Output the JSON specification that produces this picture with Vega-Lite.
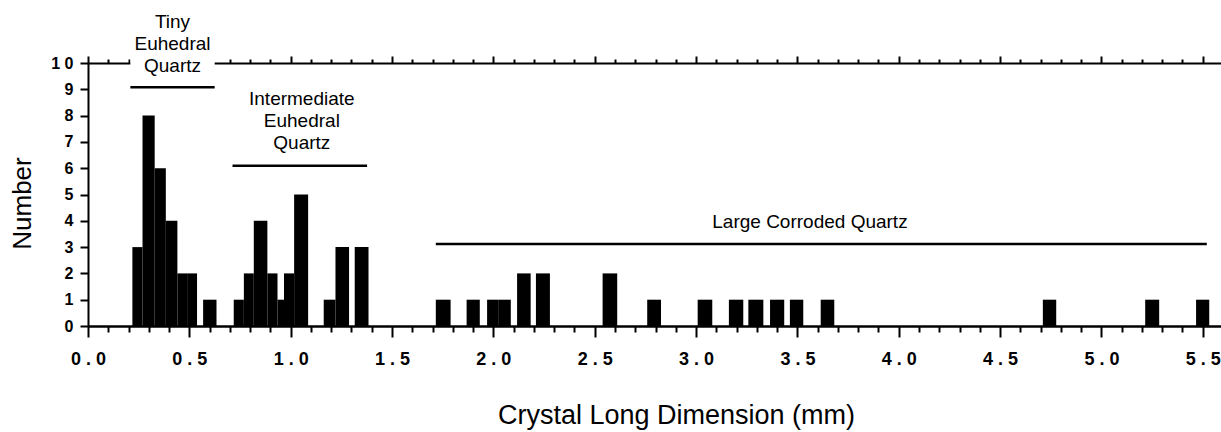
{
  "$schema": "https://vega.github.io/schema/vega-lite/v6.json",
  "width": 1133,
  "height": 263,
  "autosize": "none",
  "padding": {"left": 88, "top": 63, "right": 0, "bottom": 106},
  "background": "white",
  "datasets": {
    "bins": [
      {"x0": 0.219, "x1": 0.269, "count": 3},
      {"x0": 0.269, "x1": 0.329, "count": 8},
      {"x0": 0.329, "x1": 0.384, "count": 6},
      {"x0": 0.384, "x1": 0.441, "count": 4},
      {"x0": 0.441, "x1": 0.489, "count": 2},
      {"x0": 0.489, "x1": 0.538, "count": 2},
      {"x0": 0.568, "x1": 0.634, "count": 1},
      {"x0": 0.719, "x1": 0.769, "count": 1},
      {"x0": 0.769, "x1": 0.818, "count": 2},
      {"x0": 0.818, "x1": 0.885, "count": 4},
      {"x0": 0.885, "x1": 0.935, "count": 2},
      {"x0": 0.935, "x1": 0.967, "count": 1},
      {"x0": 0.967, "x1": 1.017, "count": 2},
      {"x0": 1.017, "x1": 1.086, "count": 5},
      {"x0": 1.163, "x1": 1.221, "count": 1},
      {"x0": 1.221, "x1": 1.288, "count": 3},
      {"x0": 1.316, "x1": 1.384, "count": 3},
      {"x0": 1.716, "x1": 1.789, "count": 1},
      {"x0": 1.868, "x1": 1.933, "count": 1},
      {"x0": 1.969, "x1": 2.027, "count": 1},
      {"x0": 2.027, "x1": 2.086, "count": 1},
      {"x0": 2.117, "x1": 2.184, "count": 2},
      {"x0": 2.210, "x1": 2.279, "count": 2},
      {"x0": 2.539, "x1": 2.611, "count": 2},
      {"x0": 2.759, "x1": 2.827, "count": 1},
      {"x0": 3.008, "x1": 3.080, "count": 1},
      {"x0": 3.162, "x1": 3.233, "count": 1},
      {"x0": 3.258, "x1": 3.332, "count": 1},
      {"x0": 3.365, "x1": 3.435, "count": 1},
      {"x0": 3.463, "x1": 3.529, "count": 1},
      {"x0": 3.615, "x1": 3.682, "count": 1},
      {"x0": 4.711, "x1": 4.777, "count": 1},
      {"x0": 5.216, "x1": 5.285, "count": 1},
      {"x0": 5.467, "x1": 5.532, "count": 1}
    ],
    "groups": [
      {"group": "tiny", "label": "Tiny\nEuhedral\nQuartz", "x_start": 0.209, "x_end": 0.625, "line_y": 9.08, "label_x": 0.417, "label_y": 11.33},
      {"group": "intermediate", "label": "Intermediate\nEuhedral\nQuartz", "x_start": 0.713, "x_end": 1.377, "line_y": 6.09, "label_x": 1.055, "label_y": 8.4},
      {"group": "large", "label": "Large Corroded Quartz", "x_start": 1.716, "x_end": 5.52, "line_y": 3.12, "label_x": 3.562, "label_y": 3.71}
    ]
  },
  "layer": [
    {
      "data": {"name": "bins"},
      "mark": {"type": "rect", "color": "black"},
      "encoding": {
        "x": {
          "field": "x0",
          "type": "quantitative",
          "scale": {"domain": [0, 5.59], "nice": false, "zero": false},
          "axis": {
            "orient": "bottom",
            "values": [0, 0.1, 0.2, 0.3, 0.4, 0.5, 0.6, 0.7, 0.8, 0.9, 1, 1.1, 1.2, 1.3, 1.4, 1.5, 1.6, 1.7, 1.8, 1.9, 2, 2.1, 2.2, 2.3, 2.4, 2.5, 2.6, 2.7, 2.8, 2.9, 3, 3.1, 3.2, 3.3, 3.4, 3.5, 3.6, 3.7, 3.8, 3.9, 4, 4.1, 4.2, 4.3, 4.4, 4.5, 4.6, 4.7, 4.8, 4.9, 5, 5.1, 5.2, 5.3, 5.4, 5.5],
            "labelExpr": "abs(datum.value * 2 - round(datum.value * 2)) < 0.001 ? join(split(format(datum.value, '.1f'), ''), ' ') : ''",
            "labelOverlap": false,
            "labelFlush": false,
            "labelBound": false,
            "labelFont": "Liberation Sans",
            "labelFontWeight": "bold",
            "labelFontSize": 18,
            "labelBaseline": "alphabetic",
            "labelPadding": 27,
            "tickSize": {"condition": {"test": "abs(datum.value * 2 - round(datum.value * 2)) < 0.001", "value": 11}, "value": 6},
            "domainWidth": 2.5,
            "title": "Crystal Long Dimension (mm)",
            "titleFontSize": 27,
            "titleBaseline": "alphabetic",
            "titleX": 588,
            "titleY": 97
          }
        },
        "x2": {"field": "x1"},
        "y": {
          "field": "count",
          "type": "quantitative",
          "scale": {"domain": [0, 10], "nice": false},
          "axis": {
            "values": [0, 1, 2, 3, 4, 5, 6, 7, 8, 9, 10],
            "labelExpr": "datum.value == 10 ? '1 0' : format(datum.value, 'd')",
            "labelOverlap": false,
            "labelFont": "Liberation Sans",
            "labelFontWeight": "bold",
            "labelFontSize": 16,
            "labelPadding": 7,
            "tickSize": 8,
            "domainWidth": 2,
            "title": "Number",
            "titleFontSize": 26,
            "titleBaseline": "alphabetic",
            "titleX": -58,
            "titleY": 140
          }
        },
        "y2": {"datum": 0}
      }
    },
    {
      "data": {"name": "groups"},
      "mark": {"type": "rule", "color": "black", "strokeWidth": 2.5},
      "encoding": {
        "x": {
          "field": "x_start",
          "type": "quantitative",
          "axis": {
            "orient": "top",
            "values": [0, 0.1, 0.2, 0.3, 0.4, 0.5, 0.6, 0.7, 0.8, 0.9, 1, 1.1, 1.2, 1.3, 1.4, 1.5, 1.6, 1.7, 1.8, 1.9, 2, 2.1, 2.2, 2.3, 2.4, 2.5, 2.6, 2.7, 2.8, 2.9, 3, 3.1, 3.2, 3.3, 3.4, 3.5, 3.6, 3.7, 3.8, 3.9, 4, 4.1, 4.2, 4.3, 4.4, 4.5, 4.6, 4.7, 4.8, 4.9, 5, 5.1, 5.2, 5.3, 5.4, 5.5],
            "labels": false,
            "tickSize": {"condition": {"test": "abs(datum.value * 2 - round(datum.value * 2)) < 0.001", "value": 7}, "value": 4},
            "domainWidth": 2,
            "title": null,
            "zindex": 0
          }
        },
        "x2": {"field": "x_end"},
        "y": {"field": "line_y", "type": "quantitative", "axis": null}
      }
    },
    {
      "data": {"name": "groups"},
      "transform": [{"filter": "datum.group == 'tiny'"}],
      "mark": {"type": "rect", "color": "white"},
      "encoding": {
        "x": {"field": "x_start", "type": "quantitative", "axis": null},
        "x2": {"field": "x_end"},
        "y": {"datum": 9.72, "type": "quantitative", "axis": null},
        "y2": {"datum": 10.4}
      }
    },
    {
      "data": {"name": "groups"},
      "mark": {"type": "text", "font": "Liberation Sans", "fontSize": 19, "color": "black", "align": "center", "baseline": "alphabetic", "lineBreak": "\n", "lineHeight": 22},
      "encoding": {
        "x": {"field": "label_x", "type": "quantitative", "axis": null},
        "y": {"field": "label_y", "type": "quantitative", "axis": null},
        "text": {"field": "label"}
      }
    }
  ],
  "resolve": {"axis": {"x": "independent", "y": "independent"}},
  "config": {
    "view": {"stroke": null},
    "axis": {
      "grid": false,
      "labelColor": "black",
      "tickColor": "black",
      "tickWidth": 2,
      "domainColor": "black",
      "titleFont": "Liberation Sans",
      "titleFontWeight": "normal",
      "titleColor": "black"
    }
  }
}
